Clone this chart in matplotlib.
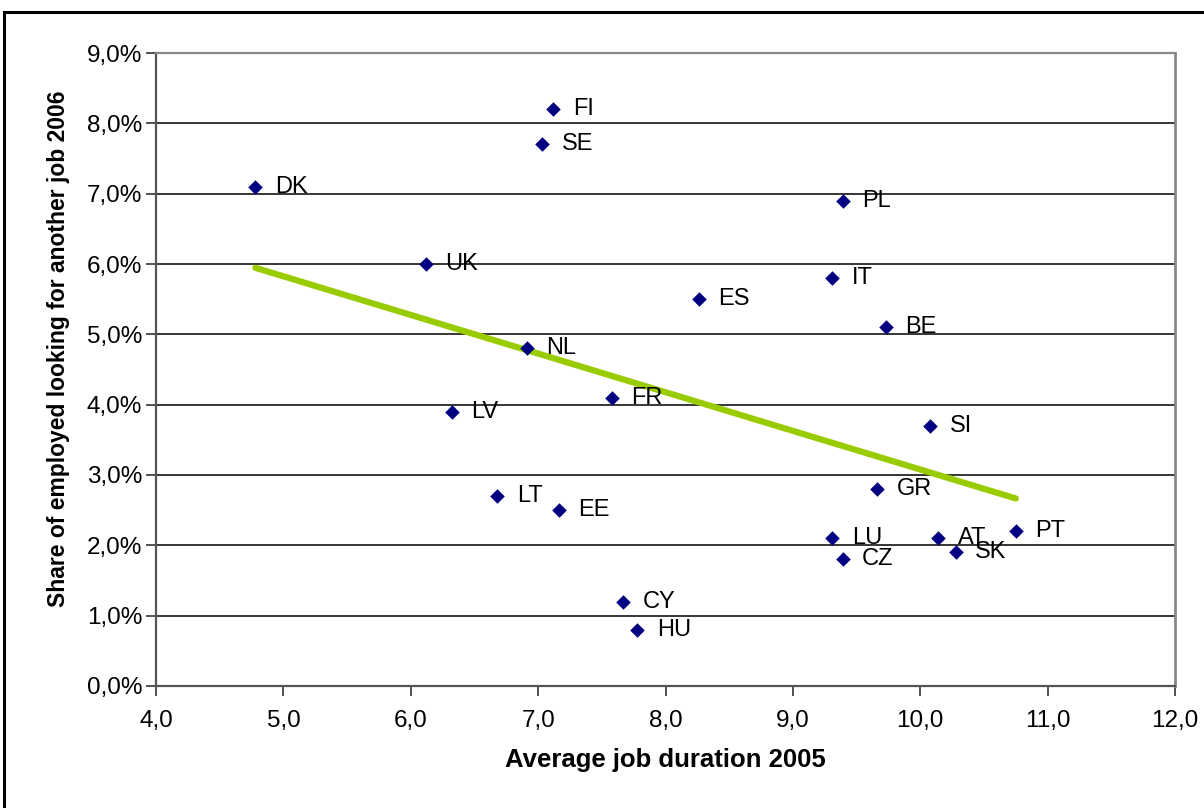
import numpy as np
import matplotlib
matplotlib.use('Agg')
import matplotlib.pyplot as plt
import matplotlib.ticker as mtick
import matplotlib.patches as mpatches

plt.rcParams['font.family'] = ['Liberation Sans', 'DejaVu Sans']

countries = ['DK', 'FI', 'SE', 'PL', 'UK', 'IT', 'ES', 'BE', 'NL', 'FR', 'LV',
             'SI', 'GR', 'LT', 'EE', 'LU', 'AT', 'PT', 'SK', 'CZ', 'CY', 'HU']
job_duration = [4.78, 7.12, 7.03, 9.39, 6.12, 9.31, 8.26, 9.73, 6.91, 7.58, 6.32,
                10.08, 9.66, 6.68, 7.16, 9.31, 10.14, 10.75, 10.28, 9.39, 7.67, 7.78]
looking_share = [7.1, 8.2, 7.7, 6.9, 6.0, 5.8, 5.5, 5.1, 4.8, 4.1, 3.9,
                 3.7, 2.8, 2.7, 2.5, 2.1, 2.1, 2.2, 1.9, 1.8, 1.2, 0.8]

x = np.array(job_duration)
y = np.array(looking_share)

fig = plt.figure(figsize=(12.04, 8.08), dpi=100)
ax = fig.add_axes([0.1296, 0.151, 0.8463, 0.7834])

# outer frame of the chart object
frame = mpatches.Rectangle((4 / 1204, -0.1), 1.2, 1 - 12 / 808 + 0.1,
                           transform=fig.transFigure, fill=False,
                           edgecolor='black', linewidth=2.2, zorder=0)
fig.patches.append(frame)

# linear trend
k, b = np.polyfit(x, y, 1)
xs = np.array([x.min(), x.max()])
ax.plot(xs, k * xs + b, color='#99CC00', linewidth=4.5,
        solid_capstyle='round', zorder=2)

ax.scatter(x, y, marker='D', s=55, color='#000080', zorder=3, linewidths=0)
for c, xi, yi in zip(countries, x, y):
    ax.annotate(c, (xi, yi), xytext=(14, 0), textcoords='offset points',
                fontsize=17, va='center', ha='left', color='black', zorder=4)

ax.set_xlim(4, 12)
ax.set_ylim(0, 9)
ax.set_xticks(np.arange(4, 12.01, 1))
ax.set_yticks(np.arange(0, 9.01, 1))
ax.xaxis.set_major_formatter(mtick.FuncFormatter(lambda v, p: ('%.1f' % v).replace('.', ',')))
ax.yaxis.set_major_formatter(mtick.FuncFormatter(lambda v, p: ('%.1f%%' % v).replace('.', ',')))
ax.tick_params(axis='both', direction='out', length=7, width=1.2, labelsize=17.5,
               color='#333333')
ax.tick_params(axis='x', pad=10)
ax.tick_params(axis='y', pad=3)

ax.yaxis.grid(True, color='black', linewidth=1.1)
ax.set_axisbelow(True)
for side in ['left', 'bottom']:
    ax.spines[side].set_color('#555555')
    ax.spines[side].set_linewidth(1.6)
ax.spines['right'].set_color('#888888')
ax.spines['right'].set_linewidth(2)
ax.spines['top'].set_color('#888888')
ax.spines['top'].set_linewidth(1.6)

ax.set_xlabel('Average job duration 2005', fontsize=18.5, fontweight='bold', labelpad=12)
ax.set_ylabel('Share of employed looking for another job 2006', fontsize=16.5,
              fontweight='bold')
ax.yaxis.set_label_coords(-0.084, 0.532)

fig.savefig('out.png', dpi=100)
